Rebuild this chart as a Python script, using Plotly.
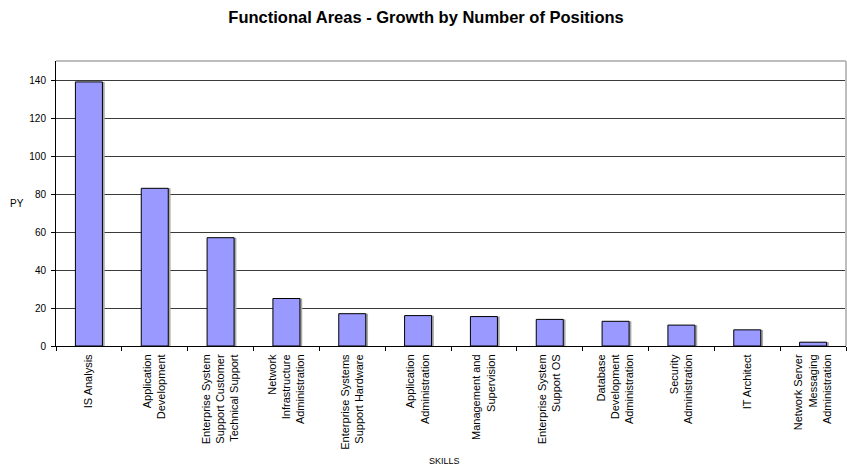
import plotly.graph_objects as go

# Functional areas (multi-line tick labels) and position growth counts
skills = [
    "IS Analysis",
    "Application<br>Development",
    "Enterprise System<br>Support Customer<br>Technical Support",
    "Network<br>Infrastructure<br>Administration",
    "Enterprise Systems<br>Support Hardware",
    "Application<br>Administration",
    "Management and<br>Supervision",
    "Enterprise System<br>Support OS",
    "Database<br>Development<br>Administration",
    "Security<br>Administration",
    "IT Architect",
    "Network Server<br>Messaging<br>Administration",
]
positions = [139, 83, 57, 25, 17, 16, 15.5, 14, 13, 11, 8.5, 2]

y_ticks = [0, 20, 40, 60, 80, 100, 120, 140]

FONT = "Liberation Sans, Arial, sans-serif"
BAR_W = 0.41

fig = go.Figure()

# soft drop shadow behind each bar
fig.add_trace(go.Bar(
    x=skills, y=positions,
    width=BAR_W, offset=-BAR_W / 2 + 0.035,
    marker=dict(color="#A8A8A8", line=dict(width=0)),
    hoverinfo="skip", showlegend=False,
))

fig.add_trace(go.Bar(
    x=skills, y=positions,
    width=BAR_W, offset=-BAR_W / 2,
    marker=dict(color="#9999FF", line=dict(color="#000000", width=1)),
    showlegend=False,
))

fig.update_layout(
    width=847, height=466,
    margin=dict(l=56, r=1, t=61, b=120),
    barmode="overlay",
    paper_bgcolor="white", plot_bgcolor="white",
    font=dict(family=FONT, size=10, color="#000000"),
    title=dict(
        text="<b>Functional Areas - Growth by Number of Positions</b>",
        x=0.503, xanchor="center", y=1 - 17 / 466, yanchor="middle",
        font=dict(family=FONT, size=16.5, color="#000000"),
    ),
)

fig.update_xaxes(
    type="category",
    range=[-0.5, len(skills) - 0.5],
    tickangle=-90,
    tickfont=dict(family=FONT, size=11),
    ticks="outside", ticklen=4, tickcolor="#000000",
    tickson="boundaries",
    ticklabelstandoff=3,
    showline=True, linecolor="#000000", linewidth=1,
    showgrid=False, zeroline=False,
)

fig.update_yaxes(
    range=[0, 150],
    tickvals=y_ticks,
    tickfont=dict(family=FONT, size=10),
    ticks="outside", ticklen=4, tickcolor="#000000",
    ticklabelstandoff=3,
    showline=True, linecolor="#000000", linewidth=1,
    showgrid=True, gridcolor="#3A3A3A", gridwidth=1,
    zeroline=False,
)

# light plot-area border on the top and right sides
fig.add_shape(type="line", xref="paper", yref="paper", x0=0, x1=1, y0=1, y1=1,
              line=dict(color="#BDBDBD", width=2))
fig.add_shape(type="line", xref="paper", yref="paper", x0=1, x1=1, y0=0, y1=1,
              line=dict(color="#BDBDBD", width=2))

# axis titles
fig.add_annotation(text="PY", xref="paper", yref="paper", x=-0.05, y=0.5,
                   xanchor="center", yanchor="middle", showarrow=False,
                   font=dict(family=FONT, size=10))
fig.add_annotation(text="SKILLS", xref="paper", yref="paper", x=0.492, y=-115 / 285,
                   xanchor="center", yanchor="middle", showarrow=False,
                   font=dict(family=FONT, size=9))

fig.write_html("out.html")
